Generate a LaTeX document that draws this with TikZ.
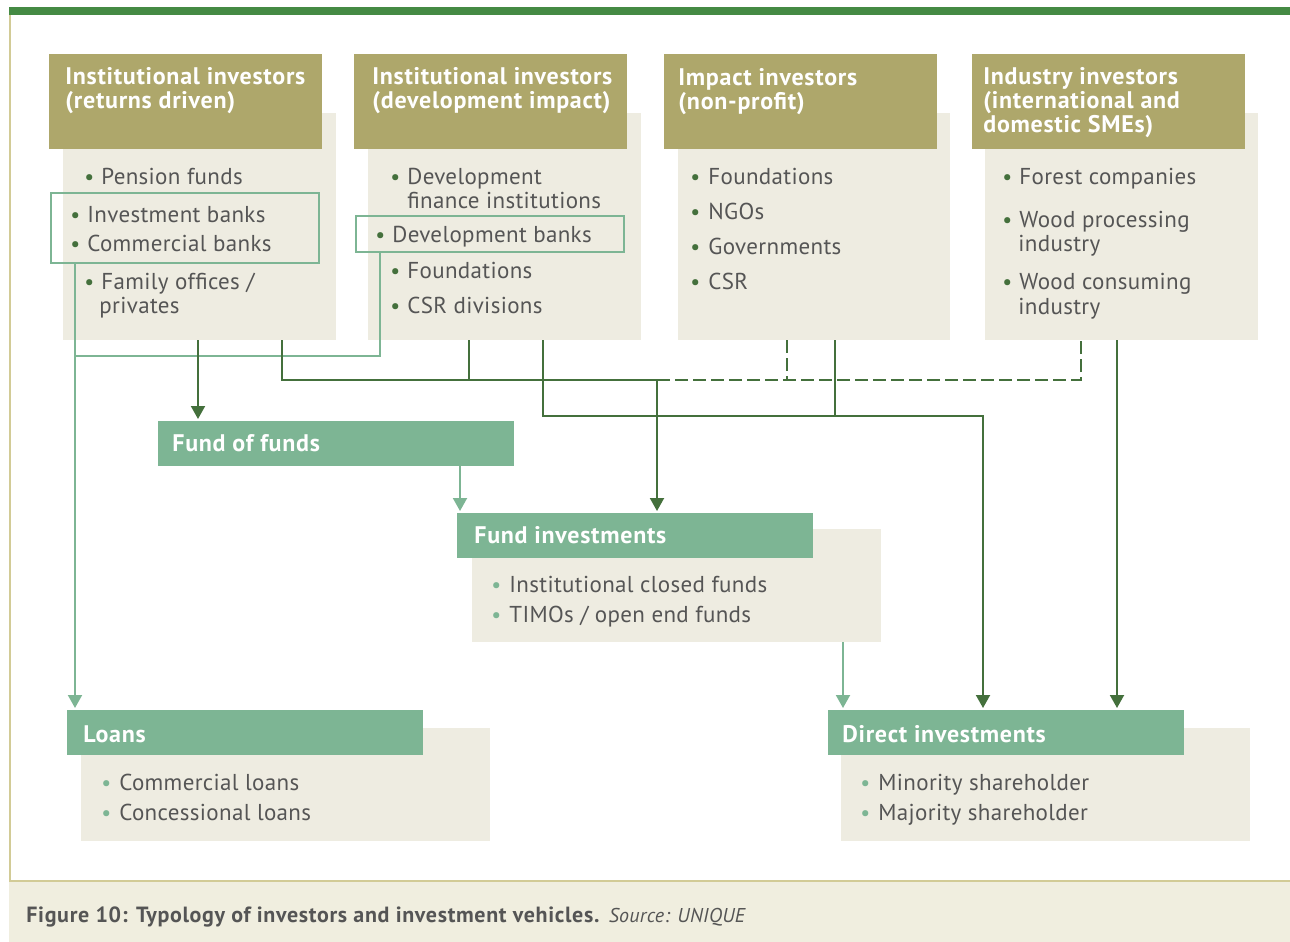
\documentclass[tikz,border=0pt]{standalone}
\usepackage{fontspec}
\setmainfont{PT Sans}
\newfontfamily\hdrfont[LetterSpace=3]{PT Sans}
\newfontfamily\bodyfont[LetterSpace=1.5]{PT Sans}
\usetikzlibrary{arrows.meta}
\definecolor{hdrolive}{HTML}{AEA76B}
\definecolor{bodybeige}{HTML}{EEECE1}
\definecolor{lgreen}{HTML}{7DB594}
\definecolor{dgreen}{HTML}{44703C}
\definecolor{topgreen}{HTML}{458A44}
\definecolor{txtgray}{HTML}{555555}
\definecolor{capbg}{HTML}{F0EEDF}
\definecolor{frametan}{HTML}{D2CB96}
\tikzset{
  rbox/.style={inner sep=0pt,outer sep=0pt,anchor=north west},
  hdr/.style={anchor=base west,inner sep=0pt,text=white,font=\hdrfont\fontsize{12}{12}\selectfont\bfseries},
  btxt/.style={anchor=base west,inner sep=0pt,text=txtgray,font=\bodyfont\fontsize{11.5}{12}\selectfont},
  bdot/.style={anchor=base west,inner sep=0pt,font=\fontsize{11}{12}\selectfont},
  lg/.style={draw=lgreen,line width=1pt},
  dg/.style={draw=dgreen,line width=1pt},
  lgtip/.style={-{Triangle[width=7pt,length=6.5pt]},shorten >=1pt},
  dgtip/.style={-{Triangle[width=7pt,length=6.5pt]},shorten >=1pt},
  dsh/.style={dash pattern=on 6.5pt off 2.5pt}
}
\newcommand\bx[7]{\node[rbox,#2,minimum width={(#5-#3)*0.5pt},minimum height={(#6-#4)*0.5pt}] (#1) at (#3,#4) {#7};}
\newcommand\hl[4]{\node[hdr] (#1) at (#2,#3) {#4};}
\newcommand\bi[6]{\node[bdot,text=#6] (#1d) at (#2-6,#4) {\textbullet};\node[btxt] (#1) at (#3,#4) {#5};}
\begin{document}
\begin{tikzpicture}[x=0.5pt,y=-0.5pt]
\useasboundingbox (0,0) rectangle (1290,942);
% frame
\fill[topgreen] (9,7) rectangle (1290,15);
\fill[capbg] (9,881) rectangle (1290,942);
\draw[frametan,line width=1pt] (9.5,15) -- (9.5,881) -- (1290,881);
% bodies
\bx{b1}{fill=bodybeige}{63}{113}{336}{340}{}
\bx{b2}{fill=bodybeige}{368}{113}{641}{340}{}
\bx{b3}{fill=bodybeige}{678}{113}{950}{340}{}
\bx{b4}{fill=bodybeige}{985}{113}{1258}{340}{}
\bx{fib}{fill=bodybeige}{472}{529}{881}{642}{}
\bx{lb}{fill=bodybeige}{81}{728}{490}{841}{}
\bx{db}{fill=bodybeige}{841}{728}{1250}{841}{}
% headers
\bx{h1}{fill=hdrolive}{49}{54}{322}{149}{}
\bx{h2}{fill=hdrolive}{354}{54}{627}{149}{}
\bx{h3}{fill=hdrolive}{664}{54}{937}{149}{}
\bx{h4}{fill=hdrolive}{972}{54}{1245}{149}{}
\bx{fof}{fill=lgreen}{158}{421}{514}{466}{}
\bx{fih}{fill=lgreen}{457}{513}{813}{558}{}
\bx{lh}{fill=lgreen}{67}{710}{423}{755}{}
\bx{dh}{fill=lgreen}{828}{710}{1184}{755}{}
% outline boxes
\bx{o1}{draw=lgreen,line width=1pt}{51}{193}{319}{263}{}
\bx{o2}{draw=lgreen,line width=1pt}{356}{216}{624}{252}{}
% junction coordinates
\coordinate (j1) at (75,356);
\coordinate (j2) at (657,380);
\coordinate (j3) at (469,380);
\coordinate (j4) at (787,380);
\coordinate (j5) at (835,416);
% light green connectors
\draw[lg,lgtip] (75,0 |- o1.south) -- (75,0 |- lh.north);
\draw[lg] (380,0 |- o2.south) -- (380,356) -- (j1);
\draw[lg,lgtip] (460,0 |- fof.south) -- (460,0 |- fih.north);
\draw[lg,lgtip] (843,0 |- fib.south) -- (843,0 |- dh.north);
% dark green connectors
\draw[dg,dgtip] (198,0 |- b1.south) -- (198,0 |- fof.north);
\draw[dg] (282,0 |- b1.south) -- (282,380) -- (j2);
\draw[dg] (469,0 |- b2.south) -- (j3);
\draw[dg,dgtip] (j2) -- (657,0 |- fih.north);
\draw[dg,dsh] (j2) -- (1081,380) -- (1081,0 |- b4.south);
\draw[dg,dsh] (787,0 |- b3.south) -- (j4);
\draw[dg,dgtip] (543,0 |- b2.south) -- (543,416) -- (983,416) -- (983,0 |- dh.north);
\draw[dg] (835,0 |- b3.south) -- (j5);
\draw[dg,dgtip] (1117,0 |- b4.south) -- (1117,0 |- dh.north);
% header texts
\hl{t1a}{65}{84}{Institutional investors}
\hl{t1b}{65}{108}{(returns driven)}
\hl{t2a}{372}{84}{Institutional investors}
\hl{t2b}{372}{108}{(development impact)}
\hl{t3a}{678}{85}{Impact investors}
\hl{t3b}{678}{109}{(non-profit)}
\hl{t4a}{983}{84}{Industry investors}
\hl{t4b}{983}{108}{(international and}
\hl{t4c}{983}{132}{domestic SMEs)}
\hl{tfof}{172}{451}{Fund of funds}
\hl{tfi}{474}{543}{Fund investments}
\hl{tl}{83}{742}{Loans}
\hl{td}{842}{742}{Direct investments}
% column 1
\bi{p1}{90}{101}{184}{Pension funds}{dgreen}
\bi{p2}{76}{87}{222}{Investment banks}{dgreen}
\bi{p3}{76}{87}{251}{Commercial banks}{dgreen}
\bi{p4}{90}{101}{289}{Family offices /}{dgreen}
\node[btxt] (p4b) at (99,313) {privates};
% column 2
\bi{q1}{396}{407}{184}{Development}{dgreen}
\node[btxt] (q1b) at (407,208) {finance institutions};
\bi{q2}{381}{392}{242}{Development banks}{dgreen}
\bi{q3}{396}{407}{278}{Foundations}{dgreen}
\bi{q4}{396}{407}{313}{CSR divisions}{dgreen}
% column 3
\bi{r1}{696}{708}{184}{Foundations}{dgreen}
\bi{r2}{696}{708}{219}{NGOs}{dgreen}
\bi{r3}{696}{708}{254}{Governments}{dgreen}
\bi{r4}{696}{708}{289}{CSR}{dgreen}
% column 4
\bi{s1}{1008}{1019}{184}{Forest companies}{dgreen}
\bi{s2}{1008}{1019}{227}{Wood processing}{dgreen}
\node[btxt] (s2b) at (1018,251) {industry};
\bi{s3}{1008}{1019}{289}{Wood consuming}{dgreen}
\node[btxt] (s3b) at (1018,314) {industry};
% lower boxes
\bi{f1}{497}{509}{592}{Institutional closed funds}{lgreen}
\bi{f2}{497}{509}{622}{TIMOs / open end funds}{lgreen}
\bi{l1}{107}{119}{790}{Commercial loans}{lgreen}
\bi{l2}{107}{119}{820}{Concessional loans}{lgreen}
\bi{d1}{866}{878}{790}{Minority shareholder}{lgreen}
\bi{d2}{866}{878}{820}{Majority shareholder}{lgreen}
% caption
\node[anchor=base west,inner sep=0pt,text=txtgray,font=\hdrfont\fontsize{11}{12}\selectfont] (cap) at (26,922) {\textbf{Figure 10: Typology of investors and investment vehicles.} {\bodyfont\fontsize{10}{12}\selectfont\itshape Source: UNIQUE}};
\end{tikzpicture}
\end{document}
